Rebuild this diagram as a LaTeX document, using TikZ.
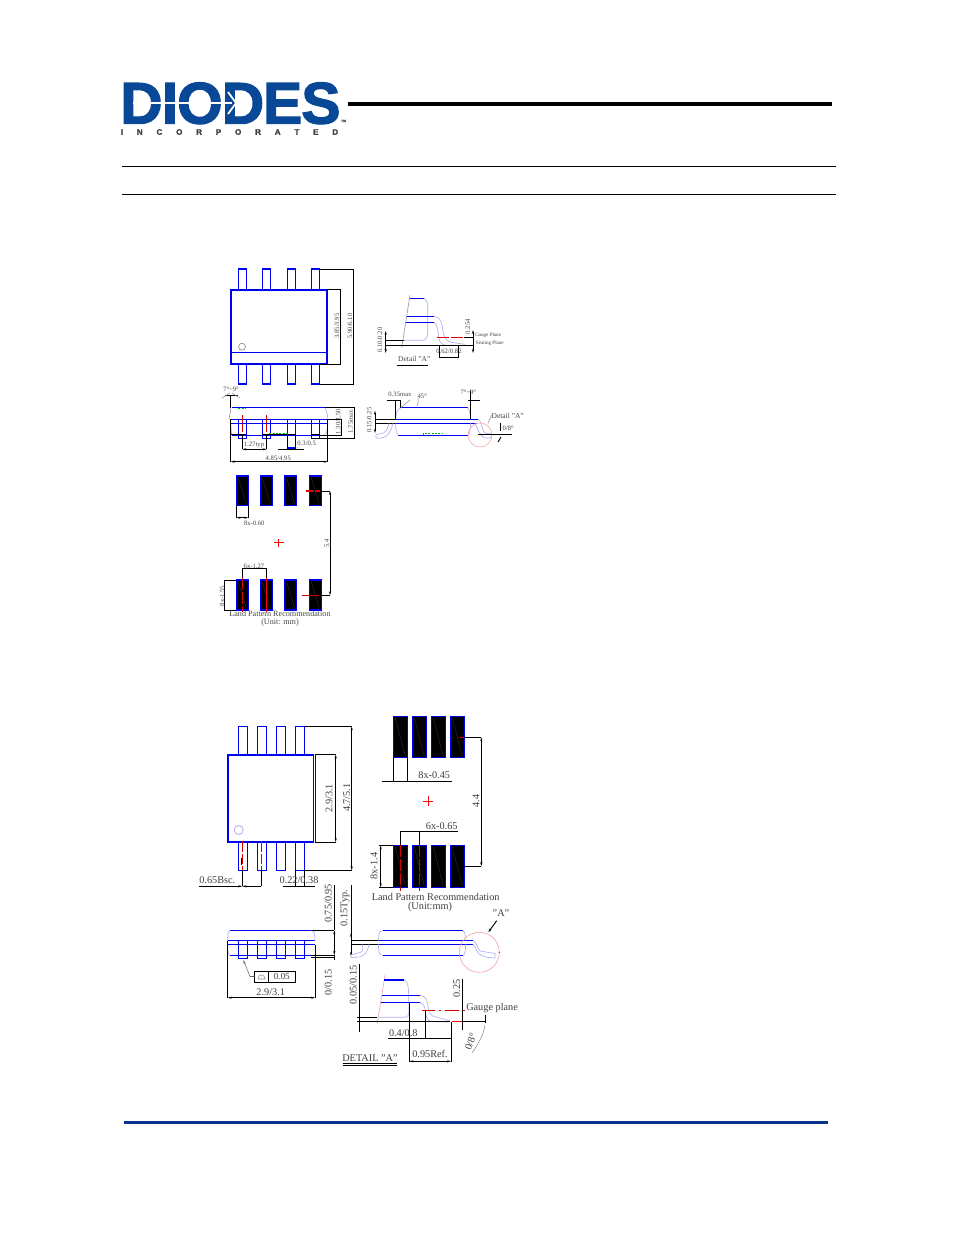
\documentclass[tikz,border=0pt]{standalone}
\usepackage{fontspec}
\setmainfont{Liberation Serif}
\newfontfamily\logofont[LetterSpace=-1.6,BoldFeatures={FakeBold=2.2}]{Liberation Sans}
\newfontfamily\incfont[BoldFeatures={FakeBold=1.5}]{Liberation Sans}
\usetikzlibrary{arrows.meta}
\definecolor{logoblue}{RGB}{8,72,150}
\definecolor{rulenavy}{RGB}{10,50,140}
\definecolor{cadblue}{RGB}{0,0,240}
\definecolor{paleblue}{RGB}{175,175,245}
\definecolor{palered}{RGB}{245,170,170}
\definecolor{txtgray}{RGB}{70,70,70}
\tikzset{
 x=0.75pt,y=-0.75pt,
 tx/.style={inner sep=0pt,text=txtgray,font=\fontsize{5pt}{5pt}\selectfont},
 txs/.style={tx,font=\fontsize{3.8pt}{4pt}\selectfont},
 txl/.style={inner sep=0pt,text=black!75,font=\fontsize{7.7pt}{8pt}\selectfont},
 blk/.style={draw=black,line width=0.7pt},
 dim/.style={blk,{Stealth[length=3pt,width=1.6pt]}-{Stealth[length=3pt,width=1.6pt]}},
 blu/.style={draw=cadblue,line width=0.8pt},
 blut/.style={draw=cadblue,line width=1.7pt},
 pale/.style={draw=paleblue,line width=0.5pt},
 pink/.style={draw=palered,line width=0.5pt},
 redd/.style={draw=red!85!black,line width=0.8pt,dash pattern=on 9pt off 1.5pt},
 redl/.style={draw=red,line width=0.8pt},
 grn/.style={draw=green!75!black,line width=0.6pt,dash pattern=on 1.5pt off 1pt},
 gry/.style={draw=black!45,line width=0.4pt},
 pad/.style={fill=black,draw=cadblue,line width=0.9pt},
 padmark/.style={draw=black!75,line width=0.2pt},
}
\begin{document}
\begin{tikzpicture}
\useasboundingbox[fill=white] (0,0) rectangle (954,1235);
% ---------- header
\node[inner sep=0pt,text depth=0pt,text=logoblue,font=\logofont\bfseries\fontsize{44pt}{44pt}\selectfont,anchor=base west] (logo) at (120,123.5) {DIODES};
\draw[white,line width=1.6pt] (133,103) -- (232,103);
\draw[white,line width=1.3pt] (228,92) -- (236,103) -- (228,114);
\node[inner sep=0pt,text=black!75,font=\incfont\bfseries\fontsize{6pt}{6pt}\selectfont] (inc) at (229.5,132) {\makebox[163pt][s]{I\hfill N\hfill C\hfill O\hfill R\hfill P\hfill O\hfill R\hfill A\hfill T\hfill E\hfill D}};
\node[inner sep=0pt,text=black!70,font=\incfont\bfseries\fontsize{2.5pt}{3pt}\selectfont] (tm) at (343.5,121) {TM};
\fill[black] (348,102) rectangle (832,106);
\draw[black,line width=0.7pt] (122,166.5) -- (836,166.5);
\draw[black,line width=0.7pt] (122,194.5) -- (836,194.5);
\fill[rulenavy] (124,1120.5) rectangle (828,1123.5);

% ---------- SOIC top view
\foreach \px in {238.3,262.3,287.3,311.3}{
  \draw[blu] (\px,290) -- (\px,269) -- (\px+8,269) -- (\px+8,290);
  \draw[blu] (\px,364) -- (\px,384) -- (\px+8,384) -- (\px+8,364);
}
\draw[blut] (231,364) -- (231,290) -- (327,290) -- (327,364) -- cycle;
\draw[blu,line width=0.6pt] (231,352) -- (327,352);
\draw[draw=black!45,line width=0.5pt] (242,346.7) circle[radius=3.5];
\draw[blk] (319.3,269) -- (353,269) -- (353,384) -- (319.3,384);
\draw[blk] (327,289.5) -- (340,289.5) -- (340,364) -- (319.3,364);
\node[tx,rotate=90] (s1) at (337,326) {3.85/3.95};
\node[tx,rotate=90] (s2) at (350,326) {5.90/6.10};

% ---------- SOIC detail A
\draw[gry] (410,295) -- (401.7,347.7);
\draw[pale] (423.7,298.3) .. controls (427,300) and (427.7,303) .. (427.7,308) -- (427.7,332) .. controls (427.7,338) and (426,340.3) .. (422,340.3) -- (403.3,340.3);
\draw[pale] (434.3,316.3) .. controls (440,317) and (442,322) .. (442.5,328) .. controls (443.5,338) and (447,342) .. (452.3,342.5) -- (465,344.3);
\draw[pale] (434.3,322.3) .. controls (437,325) and (438,330) .. (438.5,336) .. controls (439,342) and (442,345.3) .. (446,345.3) -- (458,345.3);
\draw[blu] (410,298.3) -- (423.7,298.3);
\draw[blu] (406.7,316.3) -- (434.3,316.3);
\draw[blu] (405.7,322.3) -- (434.3,322.3);
\draw[blk] (385.7,340.3) -- (404,340.3);
\draw[blk] (385.7,345.3) -- (473,345.3);
\draw[dim] (385.7,331) -- (385.7,353);
\draw[redd] (436.7,337.3) -- (464,337.3);
\draw[blk] (464,337.3) -- (473,337.3);
\draw[dim] (473,330) -- (473,353);
\draw[blk] (439,345.3) -- (439,357.7) -- (458.3,357.7) -- (458.3,345.3);
\node[tx] (d1) at (449,351.7) {0.62/0.82};
\node[tx,rotate=90] (d2) at (380,340) {0.10/0.20};
\node[tx,rotate=90] (d3) at (467.7,326.7) {0.254};
\node[txs,anchor=west] (d4) at (475,335.3) {Gauge Plane};
\node[txs,anchor=west] (d5) at (475.7,343.3) {Seating Plane};
\node[tx,font=\fontsize{5.6pt}{6pt}\selectfont] (d6) at (414.3,359.3) {Detail "A"};
\draw[black,line width=1pt] (397.3,365.3) -- (428.3,365.3);

% ---------- SOIC end view
\foreach \px/\py in {238.3/438.7,262.3/438.7,287.3/448,311.3/438.7}{
  \draw[blu] (\px,419.3) rectangle (\px+8,\py);
}
\draw[blu] (231.7,407.7) -- (325,407.7);
\draw[blu] (230.7,419.3) -- (327.7,419.3);
\draw[blu] (230.7,423.3) -- (327.7,423.3);
\draw[blu] (231.7,435.3) -- (325,435.3);
\draw[pale] (325,407.7) .. controls (327,412) and (327.7,415) .. (327.7,419.3);
\draw[pale] (327.7,423.3) .. controls (327.7,428) and (327,432) .. (325,435.3);
\draw[gry] (231,408) -- (229,419);
\draw[pale] (230.7,423.3) -- (231.7,435.3);
\draw[grn] (238.3,408.3) -- (246,408.3);
\draw[grn] (269.3,433.3) -- (288.3,433.3);
\draw[blk] (230.7,395) -- (230.7,408);
\draw[blk] (225,395.7) -- (238,395.7);
\draw[gry] (222,398) -- (230,393);
\draw[gry] (232,393) -- (240,398);
\node[tx] (e1) at (231,389.3) {7°\textasciitilde9°};
\draw[blk] (230.7,419.3) -- (230.7,461.7);
\draw[blk] (327.7,419.3) -- (327.7,461.7);
\draw[dim] (230.7,461.7) -- (327.7,461.7);
\node[tx] (e2) at (278.3,458.7) {4.85/4.95};
\draw[blk] (325,407.7) -- (354.3,407.7) -- (354.3,438.3) -- (311.3,438.3);
\draw[blk] (327.7,419.3) -- (341.7,419.3) -- (341.7,435.3) -- (319,435.3);
\node[tx,rotate=90] (e3) at (338.3,421.7) {1.30/1.50};
\node[tx,rotate=90] (e4) at (350.7,421.7) {1.75max};
\foreach \rx in {242.3,266.7}{
  \draw[redd,dash pattern=on 6pt off 1pt] (\rx,415) -- (\rx,434);
  \draw[blk] (\rx,434) -- (\rx,449.3);
}
\draw[blk] (230.7,434.3) -- (246.3,434.3);
\draw[blk] (262.3,434.3) -- (295.3,434.3);
\draw[blk] (311.3,434.3) -- (319.3,434.3);
\draw[dim] (242.3,449.3) -- (266.7,449.3);
\node[tx] (e5) at (254,445) {1.27typ};
\draw[blk] (287.3,434) -- (287.3,449.3);
\draw[blk] (295.3,434) -- (295.3,449.3);
\draw[blk] (278,449.3) -- (304,449.3);
\node[tx] (e6) at (306.7,443.7) {0.3/0.5};

% ---------- SOIC side view
\draw[blu] (401,407.7) -- (467.7,407.7);
\draw[blu] (396,419.3) -- (478.3,419.3);
\draw[blu] (396,423.3) -- (478.3,423.3);
\draw[blu] (398.3,435.3) -- (468.3,435.3);
\draw[blk] (375,419.3) -- (396,419.3);
\draw[blk] (375,423.3) -- (396,423.3);
\draw[dim] (375,410.7) -- (375,433);
\draw[pale] (401,407.7) .. controls (397,409) and (395.7,414) .. (395.7,419.3);
\draw[pale] (395.7,423.3) .. controls (395.7,429) and (396,433) .. (398.3,435.3);
\draw[pale] (467.7,407.7) .. controls (470,410) and (470.5,415) .. (470.5,419.3);
\draw[pale] (470.5,423.3) .. controls (470.5,429) and (470,433) .. (468.3,435.3);
\draw[pale] (389,423.3) .. controls (387,430) and (386,433) .. (380,434) -- (376,434.5) -- (376,438) -- (382,438) .. controls (388,437) and (391,431) .. (393,423.3);
\draw[pale] (478.3,419.3) .. controls (482,421) and (481,430) .. (485,433) -- (491,434) -- (491,438) -- (485,438) .. controls (479,436) and (478,428) .. (475,423.3);
\draw[pink] (480,435) circle[radius=12];
\draw[gry] (491.7,415) -- (488,423);
\draw[grn] (423.3,435) -- (423.3,433.3) -- (442.7,433.3) -- (442.7,435);
\draw[blk] (386.7,400) -- (400.7,400) -- (400.7,407.7);
\draw[blk] (395.7,400) -- (395.7,419.3);
\draw[gry] (400.7,407.7) -- (410,400);
\draw[gry] (418,398) .. controls (419,401) and (418,404) .. (417,406);
\draw[blk] (467.7,400.7) -- (480,400.7);
\draw[blk] (470,390) -- (470,419.3);
\node[tx] (f1) at (400,394) {0.35max};
\node[tx] (f2) at (422.3,396.7) {45°};
\node[tx] (f3) at (468.3,392.7) {7°\textasciitilde9°};
\node[tx,rotate=90] (f4) at (369.3,420) {0.15/0.25};
\node[tx,font=\fontsize{5.6pt}{6pt}\selectfont] (f5) at (507.7,416) {Detail "A"};
\node[tx] (f6) at (508.3,428.7) {0/8°};
\draw[blk] (478.3,434) -- (511.7,434);
\draw[blk] (500,423) -- (500,431);
\draw[blk] (501,437) -- (498,442);

% ---------- SOIC land pattern
\foreach \px in {236.3,260.3,284.7,309.3}{
  \draw[pad] (\px,476) rectangle (\px+12,505.7);
  \draw[pad] (\px,580) rectangle (\px+12,610);
  \draw[padmark] (\px+2,478) -- (\px+10,504);
  \draw[padmark] (\px+2,582) -- (\px+10,608);
}
\draw[blk] (236.3,505.7) -- (236.3,517.7);
\draw[blk] (248.3,505.7) -- (248.3,517.7);
\draw[dim] (236.3,517.7) -- (248.3,517.7);
\node[tx] (g1) at (254.3,523) {8x-0.60};
\draw[redl] (273.7,542.7) -- (283.7,542.7);
\draw[redl] (278.7,538.7) -- (278.7,546.7);
\draw[redd,dash pattern=on 6pt off 1pt] (306,491) -- (320,491);
\draw[blk] (320,491) -- (330,491);
\draw[dim] (330,491) -- (330,595.3);
\draw[blk] (321.7,595.3) -- (330,595.3);
\draw[redd,dash pattern=on 6pt off 1pt] (302,595.3) -- (321.7,595.3);
\node[tx,rotate=90] (g2) at (326.7,543.3) {5.4};
\draw[blk] (242.3,580) -- (242.3,568.3) -- (266.7,568.3) -- (266.7,580);
\draw[redd] (242.3,578) -- (242.3,611.7);
\draw[redl] (266.7,578) -- (266.7,611.7);
\node[tx] (g3) at (254,566) {6x-1.27};
\draw[blk] (236.3,580) -- (224.3,580) -- (224.3,610) -- (236.3,610);
\node[tx,rotate=90] (g4) at (222.3,596) {8x-1.55};
\node[tx,font=\fontsize{6.1pt}{6pt}\selectfont] (g5) at (280,614) {Land Pattern Recommendation};
\node[tx,font=\fontsize{6.1pt}{6pt}\selectfont] (g6) at (280,622.7) {(Unit: mm)};

% ---------- MSOP top view
\foreach \px in {238.3,257.3,276.3,295.3}{
  \draw[blu] (\px,755) -- (\px,726.3) -- (\px+9.4,726.3) -- (\px+9.4,755);
  \draw[blu] (\px,842) -- (\px,870.3) -- (\px+9.4,870.3) -- (\px+9.4,842);
}
\draw[blut] (313.3,755) -- (228,755) -- (228,842) -- (313.3,842);
\draw[blu,line width=0.6pt] (313.3,754) -- (313.3,843);
\draw[blu,line width=0.6pt] (315.6,755) -- (315.6,842);
\draw[draw=paleblue,line width=0.6pt] (238.7,830) circle[radius=4.5];
\draw[blk] (304.7,726.3) -- (351.7,726.3);
\draw[dim] (351.7,726.3) -- (351.7,870.3);
\draw[blk] (304.7,870.3) -- (351.7,870.3);
\draw[blk] (315,754.5) -- (335.7,754.5);
\draw[blk] (315,842) -- (335.7,842);
\draw[dim] (335.7,754.5) -- (335.7,842);
\node[txl,rotate=90] (m1) at (329,798.3) {2.9/3.1};
\node[txl,rotate=90] (m2) at (346.7,797.7) {4.7/5.1};
\draw[redd,dash pattern=on 8pt off 1.5pt] (242.3,841) -- (242.3,870);
\draw[redd,dash pattern=on 8pt off 1.5pt] (261.3,841) -- (261.3,870);
\draw[blk] (241.7,858) -- (241.7,865);
\draw[blk] (242.3,870) -- (242.3,886.3);
\draw[blk] (261.3,870) -- (261.3,886.3);
\draw[blk,-{Stealth[length=3pt,width=1.6pt]}] (199,886.3) -- (242.3,886.3);
\draw[blk,{Stealth[length=3pt,width=1.6pt]}-] (242.3,886.3) -- (261.3,886.3);
\node[txl] (m3) at (217.3,880) {0.65Bsc.};
\draw[blk] (295.3,870) -- (295.3,886.3);
\draw[blk] (304.7,870) -- (304.7,886.3);
\draw[blk] (283.3,886.3) -- (315,886.3);
\node[txl] (m4) at (299,880) {0.22/0.38};

% ---------- MSOP land pattern
\foreach \px in {393.3,412.3,431.3,450.3}{
  \draw[pad] (\px,716.3) rectangle (\px+14,757.3);
  \draw[pad] (\px,845.3) rectangle (\px+14,887.3);
  \draw[padmark] (\px+2,718) -- (\px+12,756);
  \draw[padmark] (\px+2,847) -- (\px+12,886);
}
\draw[blk] (393.3,757.3) -- (393.3,781.3);
\draw[blk] (407.3,757.3) -- (407.3,781.3);
\draw[blk] (382.3,781.3) -- (451.7,781.3);
\node[txl] (n1) at (434.3,774.7) {8x-0.45};
\draw[redl] (423.3,801.3) -- (433.3,801.3);
\draw[redl] (428.3,796.3) -- (428.3,806.3);
\draw[redl] (460,737.3) -- (464.3,737.3);
\draw[blk] (464.3,737.3) -- (481.3,737.3);
\draw[blk] (464.3,866.3) -- (481.3,866.3);
\draw[dim] (481.3,737.3) -- (481.3,866.3);
\node[txl,rotate=90] (n2) at (476,801) {4.4};
\draw[blk] (400.3,831) -- (457.7,831);
\draw[blk] (400.3,831) -- (400.3,845.3);
\draw[blk] (419.3,831) -- (419.3,845.3);
\draw[redd] (400.3,845.3) -- (400.3,891);
\draw[redd] (419.3,845.3) -- (419.3,891);
\node[txl] (n3) at (441.7,825.7) {6x-0.65};
\draw[blk] (393.3,845.3) -- (379.3,845.3);
\draw[blk] (393.3,887.3) -- (379.3,887.3);
\draw[dim] (380.7,845.3) -- (380.7,887.3);
\node[txl,rotate=90] (n4) at (374,866) {8x-1.4};
\node[txl] (n5) at (435.7,897.3) {Land Pattern Recommendation};
\node[txl] (n6) at (430,906.7) {(Unit:mm)};

% ---------- MSOP end view
\foreach \px in {238.3,257.3,276.3,295.3}{
  \draw[blu] (\px,940.7) rectangle (\px+9.2,958.3);
}
\draw[blu] (230,930.3) -- (311.7,930.3);
\draw[blu] (227.7,940.7) -- (315,940.7);
\draw[blu] (227.7,944.7) -- (315,944.7);
\draw[blu] (230,955.7) -- (311,955.7);
\draw[pale] (230,930.3) .. controls (228.5,931) and (227.7,933) .. (227.7,940.7);
\draw[pale] (311.7,930.3) .. controls (314,931) and (315,934) .. (315,940.7);
\draw[pale] (227.7,944.7) .. controls (227.7,951) and (228,955) .. (230,955.7);
\draw[blk] (227.7,940.7) -- (227.7,997.7);
\draw[blk] (315,945) -- (315,997.7);
\draw[dim] (227.7,997.7) -- (315,997.7);
\draw[blk] (311.7,930.3) -- (334.3,930.3);
\draw[blk] (311,955) -- (334.3,955);
\draw[blk] (311,957.7) -- (334.3,957.7);
\draw[blk] (334.3,885) -- (334.3,930.3);
\draw[dim] (334.3,930.3) -- (334.3,955);
\draw[blk] (334.3,955) -- (334.3,960);
\node[txl,rotate=90] (p1) at (328.3,903.3) {0.75/0.95};
\node[txl,rotate=90] (p2) at (345,908.3) {0.15Typ.};
\node[txl,rotate=90] (p3) at (328.3,982.3) {0/0.15};
\draw[blk] (254.3,971) rectangle (295.7,982.3);
\draw[blk] (268.3,971) -- (268.3,982.3);
\draw[gry] (258,979) .. controls (258,973.5) and (265,973.5) .. (265,979) -- cycle;
\node[txl,font=\fontsize{7pt}{7pt}\selectfont] (p4) at (281.7,976.3) {0.05};
\draw[gry,-{Stealth[length=3pt,width=1.6pt]},draw=black!60] (254.3,976.5) -- (250,976.5) -- (243.3,960);
\node[txl] (p5) at (270.7,992) {2.9/3.1};

% ---------- MSOP side view
\draw[blu] (382.7,930.7) -- (462.7,930.7);
\draw[blu] (378,940.7) -- (473,940.7);
\draw[blu] (378,944.3) -- (473,944.3);
\draw[blu] (382.7,955.3) -- (462.7,955.3);
\draw[blk] (350.7,940.7) -- (378,940.7);
\draw[blk] (350.7,944.3) -- (378,944.3);
\draw[blk] (351,885) -- (351,940.7);
\draw[dim] (351,933) -- (351,956);
\draw[pale] (382.7,930.7) .. controls (379,931) and (378.5,934) .. (378.5,940.7);
\draw[pale] (378.5,944.3) .. controls (378.5,952) and (379,955) .. (382.7,955.3);
\draw[pale] (462.7,930.7) .. controls (465,931) and (465.5,935) .. (465.5,940.7);
\draw[pale] (465.5,944.3) .. controls (465.5,952) and (465,955) .. (462.7,955.3);
\draw[pale] (362,944.3) .. controls (364,950) and (363,952) .. (358,953) -- (351,955) -- (351,957.5) -- (360,957) .. controls (366,955) and (368,950) .. (369,944.3);
\draw[pale] (473,940.7) .. controls (477,942) and (477,948) .. (480,951) -- (495,953.5) -- (495,958) -- (488,957.5) .. controls (480,956) and (477,953) .. (475,947) -- (473,944.3);
\draw[pink] (479.3,952.3) circle[radius=20];
\fill[red] (499.3,952.3) circle[radius=0.7];
\draw[blk,-{Stealth[length=3pt,width=1.6pt]}] (496.7,920.7) -- (488.3,932.3);
\node[txl] (q1) at (501,913.3) {"A"};

% ---------- MSOP detail A
\draw[pink] (385,975) -- (377.3,1023.3);
\draw[pale] (404,980) .. controls (407,981) and (408,984) .. (408.5,990) -- (409,1010) .. controls (409,1015) and (408,1017.3) .. (404,1017.3) -- (378.3,1017.3);
\draw[pale] (420,995.3) .. controls (426,996) and (427,1000) .. (428,1006) .. controls (429,1014) and (431,1016) .. (436,1017) -- (450,1020.7);
\draw[pale] (420,1002.3) .. controls (424,1004) and (425,1007) .. (425.5,1012) .. controls (426,1018) and (428,1021.7) .. (433,1021.7) -- (450,1021.7);
\draw[blu] (384,980) -- (404,980);
\draw[blu] (381.7,995.3) -- (420,995.3);
\draw[blu] (380.7,1002.3) -- (420,1002.3);
\draw[blk] (359.3,964) -- (359.3,1032.3);
\draw[blk] (357.3,1017.3) -- (376.7,1017.3);
\draw[blk] (357.3,1021.7) -- (450,1021.7);
\draw[redl] (451.7,1021.7) -- (463.3,1021.7);
\draw[blk] (463.3,1021.7) -- (485.7,1021.7);
\draw[redd,dash pattern=on 10pt off 3pt on 1.5pt off 3pt] (422,1010.3) -- (465,1010.3);
\draw[blk] (462.7,979.3) -- (462.7,1030);
\draw[blk] (485,1015) -- (485,1023);
\node[txl,rotate=90] (r1) at (456.7,988.3) {0.25};
\node[txl,anchor=west] (r2) at (466,1008.3) {Gauge plane};
\node[txl,rotate=90] (r3) at (353.3,985) {0.05/0.15};
\draw[blk] (388.3,1038.3) -- (451.7,1038.3);
\draw[blk] (425.7,1010) -- (425.7,1038.3);
\draw[blk] (451,1022) -- (451,1062.3);
\draw[blk] (409.3,1002) -- (409.3,1062.3);
\draw[dim] (409.3,1061.3) -- (451,1061.3);
\node[txl] (r4) at (403.3,1032.7) {0.4/0.8};
\node[txl] (r5) at (430,1054.3) {0.95Ref.};
\node[txl] (r6) at (370,1058) {DETAIL "A"};
\draw[black,line width=0.5pt] (342.7,1063.3) -- (397.3,1063.3);
\draw[black,line width=0.5pt] (342.7,1065.7) -- (397.3,1065.7);
\draw[gry] (485,1025) .. controls (484,1032) and (481,1040) .. (472,1053);
\node[txl,rotate=70] (r7) at (470.7,1041.7) {0/8°};
\end{tikzpicture}
\end{document}
